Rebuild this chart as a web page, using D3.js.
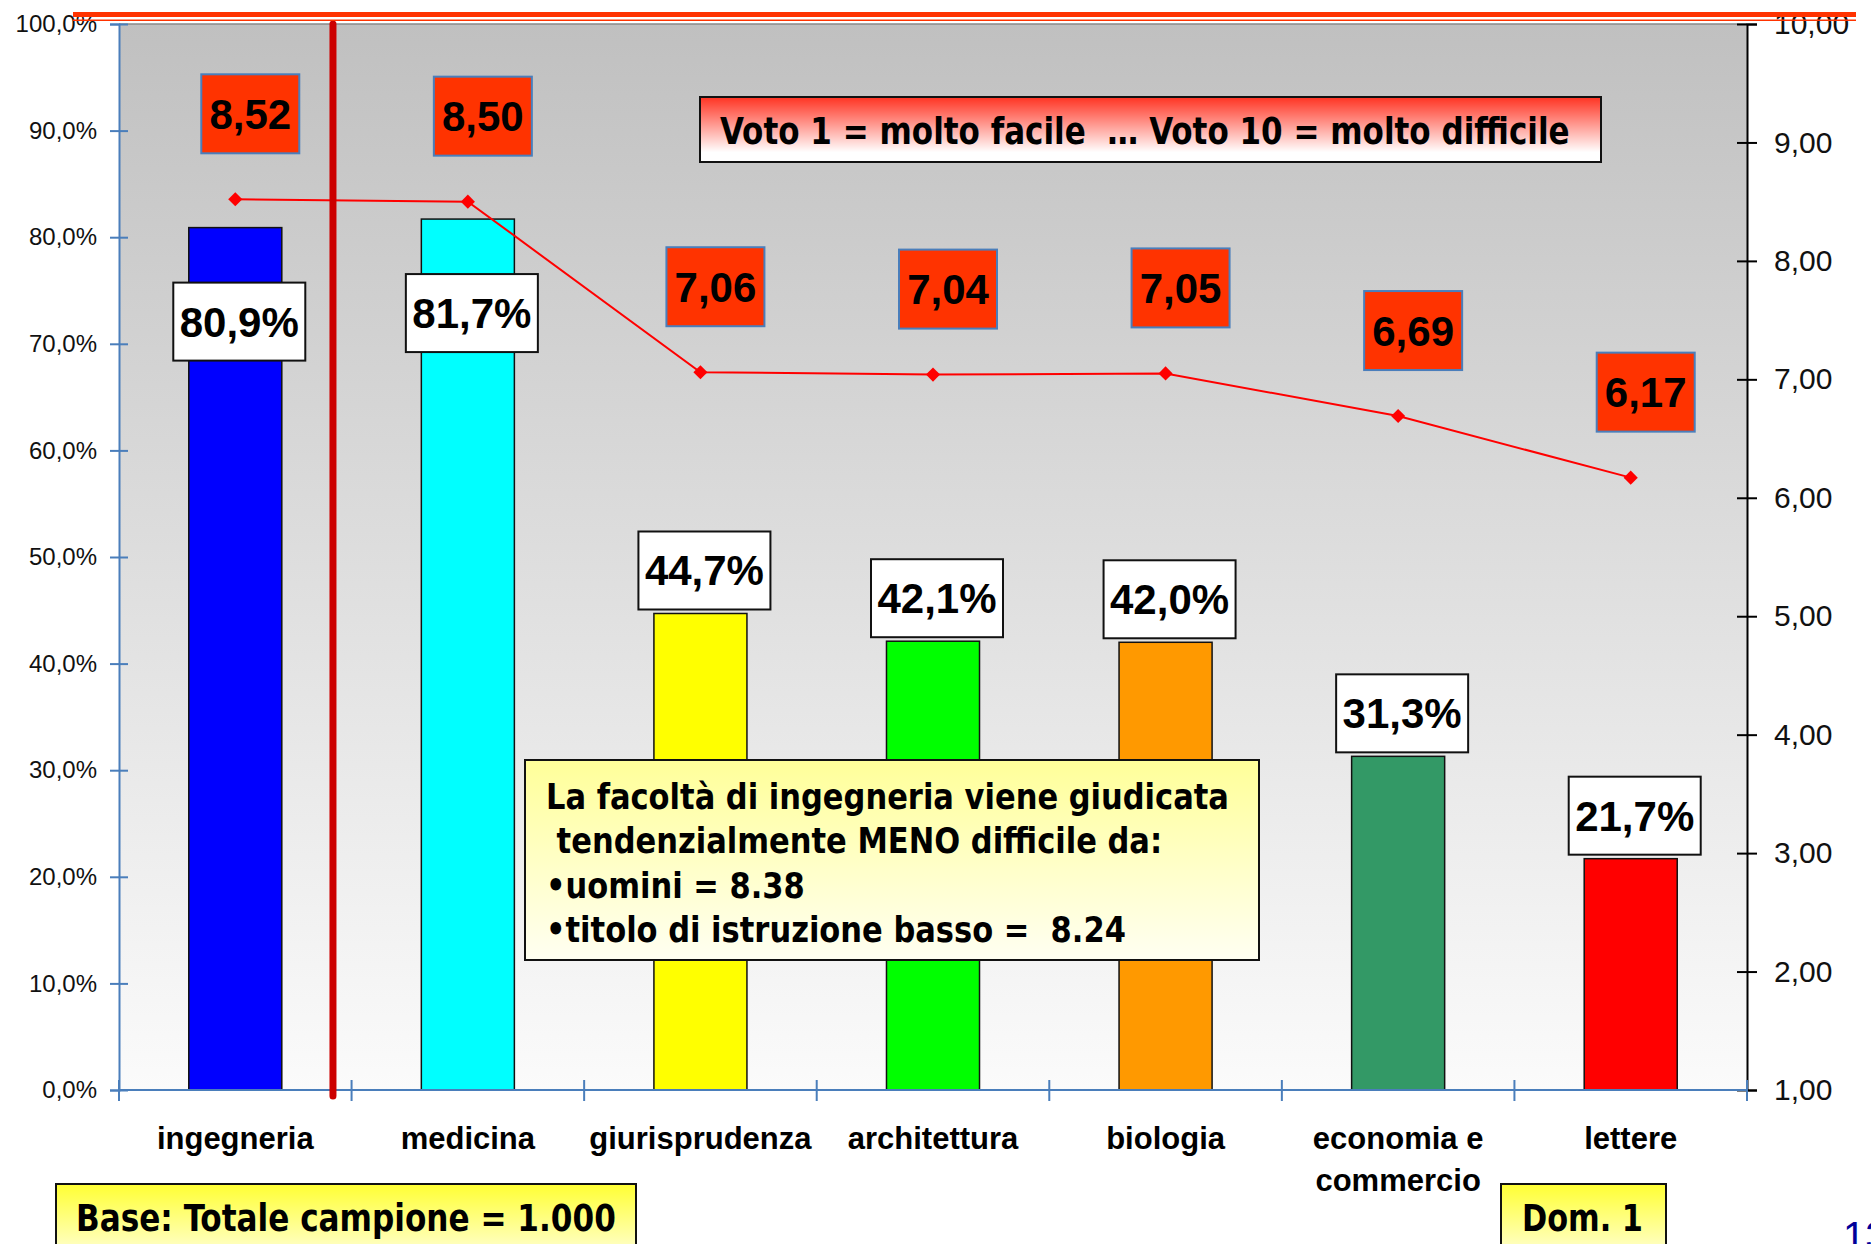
<!DOCTYPE html>
<html>
<head>
<meta charset="utf-8">
<title>Difficoltà percepita delle facoltà</title>
<script src="https://d3js.org/d3.v7.min.js"></script>
<style>
  body { margin: 0; background: #fff; }
  svg text { font-family: "Liberation Sans", Arial, sans-serif; }
  .note text { font-family: "DejaVu Sans Condensed", "DejaVu Sans", sans-serif; font-weight: bold; white-space: pre; }
</style>
</head>
<body>
<script>
// data
var categories = ["ingegneria", "medicina", "giurisprudenza", "architettura", "biologia", "economia e commercio", "lettere"];
var percentages = [80.9, 81.7, 44.7, 42.1, 42.0, 31.3, 21.7];
var scores = [8.52, 8.50, 7.06, 7.04, 7.05, 6.69, 6.17];
var barColors = ["#0000ff", "#00ffff", "#ffff00", "#00ff00", "#ff9900", "#339966", "#ff0000"];
var pctTicks = [0, 10, 20, 30, 40, 50, 60, 70, 80, 90, 100];
var scoreTicks = [1, 2, 3, 4, 5, 6, 7, 8, 9, 10];

var W = 1871, H = 1244;
var plot = {left: 119, right: 1747, top: 24, bottom: 1090};
var axisBlue = "#4a7ebb";

var svg = d3.select("body").append("svg")
    .attr("width", W)
    .attr("height", H);

var defs = svg.append("defs");
function vGrad(id, stops) {
  var g = defs.append("linearGradient").attr("id", id)
      .attr("x1", 0).attr("y1", 0).attr("x2", 0).attr("y2", 1);
  stops.forEach(function(s) {
    g.append("stop").attr("offset", s[0]).attr("stop-color", s[1]);
  });
}
vGrad("bg", [[0, "#c0c0c0"], [1, "#fbfbfb"]]);
vGrad("redfade", [[0, "#ff3322"], [0.85, "#ffffff"], [1, "#ffffff"]]);
vGrad("yellowNote", [[0, "#ffff99"], [1, "#fffff2"]]);
vGrad("yellowBox", [[0, "#ffff33"], [1, "#ffffd0"]]);

var x = d3.scaleBand().domain(categories).range([plot.left, plot.right]);
var yPct = d3.scaleLinear().domain([0, 100]).range([plot.bottom, plot.top]);
var yScore = d3.scaleLinear().domain([1, 10]).range([plot.bottom, plot.top]);
var cx = function(c) { return x(c) + x.bandwidth() / 2; };
var barW = x.bandwidth() * 0.4;

// plot background
svg.append("rect")
    .attr("x", plot.left).attr("y", plot.top)
    .attr("width", plot.right - plot.left).attr("height", plot.bottom - plot.top)
    .attr("fill", "url(#bg)");
svg.append("line")
    .attr("x1", plot.left).attr("x2", plot.right)
    .attr("y1", plot.top).attr("y2", plot.top)
    .attr("stroke", "#888").attr("stroke-width", 1.5);

// bars
svg.selectAll(".bar")
    .data(categories)
  .enter().append("rect")
    .attr("class", "bar")
    .attr("x", function(d) { return cx(d) - barW / 2; })
    .attr("width", barW)
    .attr("y", function(d, i) { return yPct(percentages[i]); })
    .attr("height", function(d, i) { return plot.bottom - yPct(percentages[i]); })
    .attr("fill", function(d, i) { return barColors[i]; })
    .attr("stroke", "#111").attr("stroke-width", 1.5);

// left axis
var left = svg.append("g")
    .attr("transform", "translate(" + plot.left + ",0)")
    .call(d3.axisLeft(yPct).tickValues(pctTicks).tickSizeOuter(0).tickSize(9)
      .tickFormat(function(d) { return d.toFixed(1).replace(".", ",") + "%"; }));
left.select(".domain").attr("stroke", axisBlue).attr("stroke-width", 2);
left.selectAll(".tick line").attr("x1", 9).attr("stroke", axisBlue).attr("stroke-width", 2);
left.selectAll(".tick text").attr("x", -22).attr("font-size", 24).attr("fill", "#111")
    .attr("font-family", "Liberation Sans, Arial, sans-serif");

// right axis
var right = svg.append("g")
    .attr("transform", "translate(" + plot.right + ",0)")
    .call(d3.axisRight(yScore).tickValues(scoreTicks).tickSizeOuter(0).tickSize(10)
      .tickFormat(function(d) { return d.toFixed(2).replace(".", ","); }));
right.select(".domain").attr("stroke", "#000").attr("stroke-width", 2);
right.selectAll(".tick line").attr("x1", -10).attr("stroke", "#000").attr("stroke-width", 2);
right.selectAll(".tick text").attr("x", 27).attr("font-size", 30).attr("fill", "#111")
    .attr("font-family", "Liberation Sans, Arial, sans-serif");

// bottom axis
var bottom = svg.append("g")
    .attr("transform", "translate(0," + plot.bottom + ")");
bottom.append("line")
    .attr("x1", plot.left).attr("x2", plot.right)
    .attr("stroke", axisBlue).attr("stroke-width", 2);
var edges = categories.map(function(c) { return x(c); }).concat([plot.right]);
bottom.selectAll(".edge")
    .data(edges)
  .enter().append("line")
    .attr("x1", function(d) { return d; }).attr("x2", function(d) { return d; })
    .attr("y1", -10).attr("y2", 11)
    .attr("stroke", axisBlue).attr("stroke-width", 2);

function wrap(label) {
  if (label.length <= 15) return [label];
  var words = label.split(" "), lines = [""];
  words.forEach(function(w) {
    var cur = lines[lines.length - 1];
    if ((cur + " " + w).trim().length > 12 && cur) lines.push(w);
    else lines[lines.length - 1] = (cur + " " + w).trim();
  });
  return lines;
}
var catText = bottom.selectAll(".cat")
    .data(categories)
  .enter().append("text")
    .attr("text-anchor", "middle")
    .attr("font-size", 31).attr("font-weight", "bold").attr("fill", "#000");
catText.each(function(d) {
  var t = d3.select(this);
  wrap(d).forEach(function(line, j) {
    t.append("tspan").attr("x", cx(d)).attr("y", 59 + j * 42).text(line);
  });
});

// score line
var line = d3.line()
    .x(function(d, i) { return cx(categories[i]); })
    .y(function(d) { return yScore(d); });
svg.append("path")
    .datum(scores)
    .attr("d", line)
    .attr("fill", "none").attr("stroke", "#ff0000").attr("stroke-width", 2);
svg.selectAll(".marker")
    .data(scores)
  .enter().append("path")
    .attr("d", d3.symbol(d3.symbolSquare, 100))
    .attr("transform", function(d, i) {
      return "translate(" + cx(categories[i]) + "," + yScore(d) + ") rotate(45)";
    })
    .attr("fill", "#ff0000");

// divider between ingegneria and medicina
var divX = x(categories[1]) - x.step() * 0.08;
svg.append("line")
    .attr("x1", divX).attr("x2", divX)
    .attr("y1", plot.top).attr("y2", plot.bottom + 6)
    .attr("stroke", "#cc0000").attr("stroke-width", 7).attr("stroke-linecap", "round");

// percentage labels
var boxW = 132, boxH = 78;
categories.forEach(function(c, i) {
  var barTop = yPct(percentages[i]);
  var sy = yScore(scores[i]);
  var top = barTop - 4 - boxH;
  if (sy > top - 10 && sy < barTop + 10) top = barTop + 55;
  var g = svg.append("g");
  g.append("rect")
      .attr("x", cx(c) - boxW / 2 + 4).attr("y", top)
      .attr("width", boxW).attr("height", boxH)
      .attr("fill", "#fff").attr("stroke", "#111").attr("stroke-width", 2);
  g.append("text")
      .attr("x", cx(c) + 4).attr("y", top + boxH / 2 + 15)
      .attr("text-anchor", "middle")
      .attr("font-size", 42).attr("font-weight", "bold").attr("fill", "#000")
      .text(percentages[i].toFixed(1).replace(".", ",") + "%");
});

// score labels
var sW = 98, sH = 79;
categories.forEach(function(c, i) {
  var sy = yScore(scores[i]);
  var bx = cx(c) + 15, by = sy - 46 - sH;
  svg.append("rect")
      .attr("x", bx - sW / 2).attr("y", by)
      .attr("width", sW).attr("height", sH)
      .attr("fill", "#ff3300").attr("stroke", axisBlue).attr("stroke-width", 2);
  svg.append("text")
      .attr("x", bx).attr("y", by + sH / 2 + 15)
      .attr("text-anchor", "middle")
      .attr("font-size", 42).attr("font-weight", "bold").attr("fill", "#000")
      .text(scores[i].toFixed(2).replace(".", ","));
});

// annotation boxes
function noteBox(bx, by, bw, bh, fill, lines, tx, ty, lh, fs, targetW) {
  var g = svg.append("g").attr("class", "note");
  g.append("rect")
      .attr("x", bx).attr("y", by).attr("width", bw).attr("height", bh)
      .attr("fill", fill).attr("stroke", "#111").attr("stroke-width", 2);
  var tg = g.append("g");
  var texts = lines.map(function(l, j) {
    return tg.append("text").attr("x", 0).attr("y", ty + j * lh)
        .attr("font-size", fs).attr("fill", "#000").text(l);
  });
  var w = texts[0].node().getComputedTextLength();
  var sx = targetW / w;
  tg.attr("transform", "translate(" + tx + ",0) scale(" + sx + ",1)");
}

noteBox(700, 97, 901, 65, "url(#redfade)",
  ["Voto 1 = molto facile  \u2026 Voto 10 = molto difficile"], 720, 144, 0, 37, 850);
noteBox(525, 760, 734, 200, "url(#yellowNote)",
  ["La facoltà di ingegneria viene giudicata",
   " tendenzialmente MENO difficile da:",
   "\u2022uomini = 8.38",
   "\u2022titolo di istruzione basso =  8.24"], 546, 809, 44.5, 35, 683);
noteBox(56, 1184, 580, 70, "url(#yellowBox)",
  ["Base: Totale campione = 1.000"], 76, 1231, 0, 37, 540);
noteBox(1501, 1184, 165, 70, "url(#yellowBox)",
  ["Dom. 1"], 1522, 1231, 0, 37, 121);

// page number
svg.append("text")
    .attr("x", 1843).attr("y", 1250)
    .attr("font-size", 40).attr("fill", "#000099")
    .text("13");

// top rule
svg.append("rect")
    .attr("x", 73).attr("y", 12).attr("width", 1783).attr("height", 5)
    .attr("fill", "#ff3300");
svg.append("rect")
    .attr("x", 73).attr("y", 19.5).attr("width", 1783).attr("height", 1.5)
    .attr("fill", "#ff3300");
</script>
</body>
</html>
